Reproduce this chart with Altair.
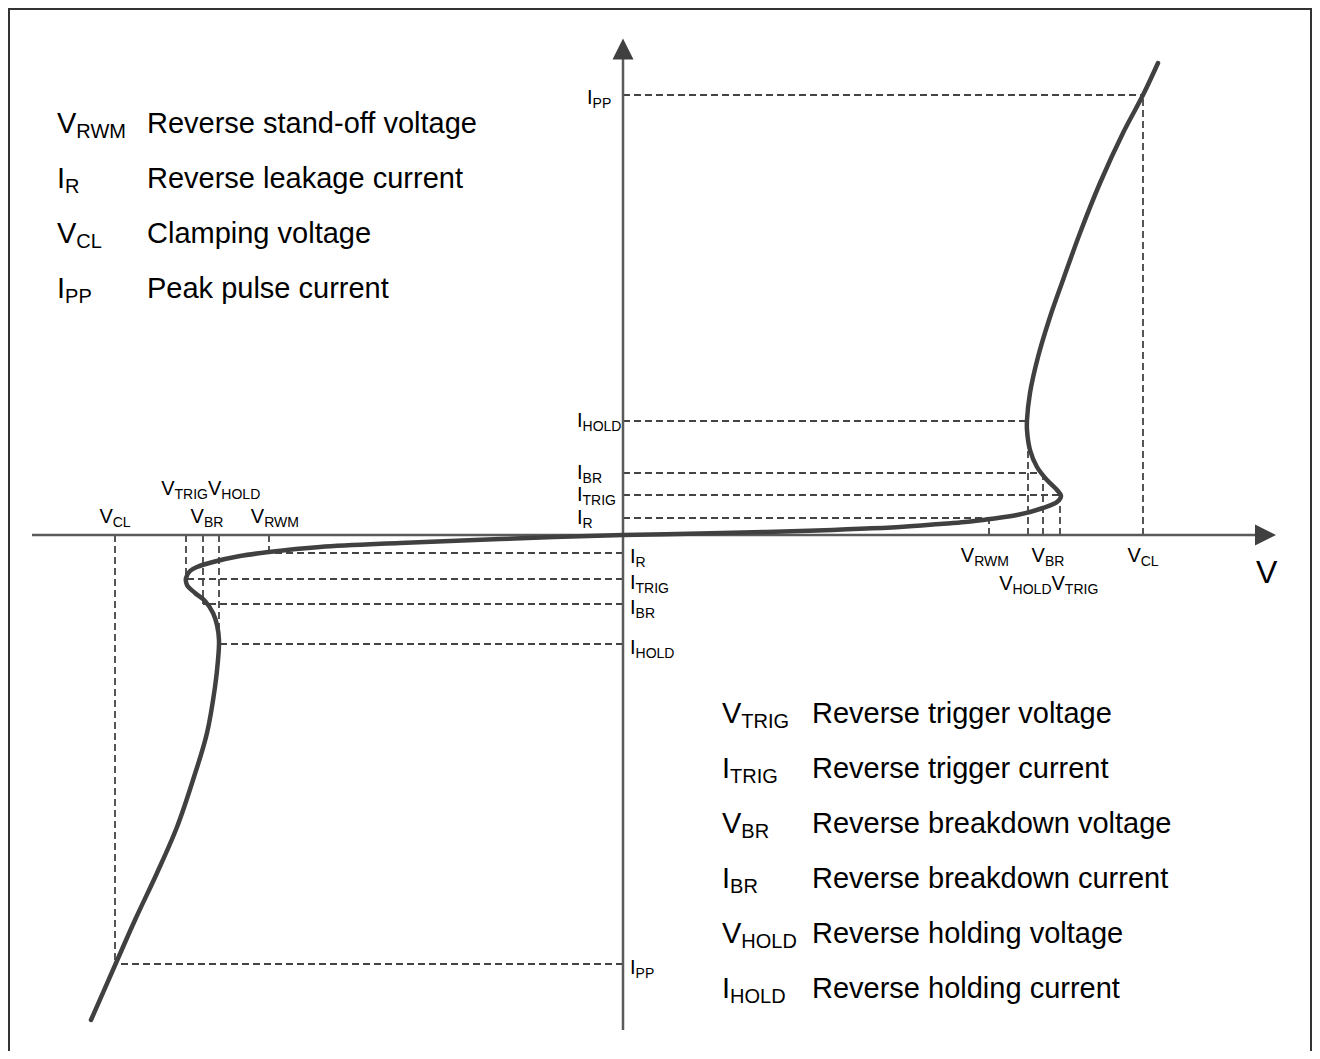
import altair as alt
import pandas as pd

# ---------------- data (diagram units, origin at the axes crossing) ----------------
curve_v = [-532, -507, -488, -466, -446, -430, -416, -408, -405, -404, -406, -410, -418, -428, -436,
           -437, -433, -426, -410, -383, -354, -303, -223, -123, 0,
           77, 177, 277, 317, 342, 367, 394, 420, 434, 438, 434, 424, 414, 407, 404, 404,
           407, 415, 427, 440, 457, 477, 500, 520, 535]
curve_i = [-485, -428, -385, -338, -292, -245, -198, -152, -125, -105, -90, -78, -66, -58, -50,
           -43, -36, -32, -27, -21, -17, -12, -8, -4, 0,
           1.5, 4, 8, 11, 13, 16, 20, 27, 33, 39, 45, 55, 68, 85, 105, 115,
           142, 178, 218, 255, 302, 352, 402, 440, 472]

v_names = ["RWM", "HOLD", "BR", "TRIG", "CL"]
v_pos = [366, 405, 420, 437, 520]
v_neg = [-354, -404, -420, -437, -508]

i_names = ["R", "TRIG", "BR", "HOLD", "PP"]
i_pos = [17, 40, 62, 114, 440]
i_neg = [-18, -44, -69, -109, -429]

# which V pairs with which I for the dashed construction lines
pairs = [("RWM", "R"), ("TRIG", "TRIG"), ("BR", "BR"), ("HOLD", "HOLD"), ("CL", "PP")]

legend_left_sym = ["V", "I", "V", "I"]
legend_left_sub = ["RWM", "R", "CL", "PP"]
legend_left_txt = ["Reverse stand-off voltage", "Reverse leakage current",
                   "Clamping voltage", "Peak pulse current"]

legend_right_sym = ["V", "I", "V", "I", "V", "I"]
legend_right_sub = ["TRIG", "TRIG", "BR", "BR", "HOLD", "HOLD"]
legend_right_txt = ["Reverse trigger voltage", "Reverse trigger current",
                    "Reverse breakdown voltage", "Reverse breakdown current",
                    "Reverse holding voltage", "Reverse holding current"]

# ---------------- layout ----------------
W, H = 1304, 1043
XD = [-615, 689]
YD = [-516, 527]
FONT = "Liberation Sans"

VP = dict(zip(v_names, v_pos))
VN = dict(zip(v_names, v_neg))
IP = dict(zip(i_names, i_pos))
IN = dict(zip(i_names, i_neg))

ARIAL = {'V': .667, 'I': .278, 'R': .722, 'W': .944, 'M': .833, 'C': .722, 'L': .556,
         'P': .667, 'T': .611, 'G': .778, 'H': .722, 'O': .778, 'D': .722, 'B': .667}


def tw(s, fs):
    return sum(ARIAL.get(c, .6) for c in s) * fs


texts = []


def lab(main, sub, x_left, y_base, fm=20, fsb=14, drop=4):
    texts.append(dict(x=x_left, y=y_base, t=main, fs=fm))
    texts.append(dict(x=x_left + tw(main, fm), y=y_base - drop, t=sub, fs=fsb))


def lab_c(main, sub, xc, y_base, fm=20, fsb=14, drop=4):
    w = tw(main, fm) + tw(sub, fsb)
    lab(main, sub, xc - w / 2, y_base, fm, fsb, drop)


def lab_r(main, sub, xr, y_base, fm=20, fsb=14, drop=4):
    w = tw(main, fm) + tw(sub, fsb)
    lab(main, sub, xr - w, y_base, fm, fsb, drop)


# right-hand V labels (below the axis)
lab_c("V", "RWM", VP["RWM"] - 4, -27)
lab_c("V", "BR", VP["BR"] + 5, -27)
lab_c("V", "CL", VP["CL"], -27)
mid_r = (VP["BR"] + VP["TRIG"]) / 2
lab_r("V", "HOLD", mid_r, -55)
lab("V", "TRIG", mid_r, -55)
# left-hand V labels (above the axis)
lab_c("V", "CL", VN["CL"], 12)
lab_c("V", "BR", VN["BR"] + 4, 12)
lab_c("V", "RWM", VN["RWM"] + 6, 12)
mid_l = VN["BR"] + 5
lab_r("V", "TRIG", mid_l, 40)
lab("V", "HOLD", mid_l, 40)
# I labels left of the vertical axis (upper half)
for n in ["R", "TRIG", "BR", "HOLD"]:
    lab("I", n, -46, IP[n] - 6)
lab("I", "PP", -36, IP["PP"] - 9)
# I labels right of the vertical axis (lower half)
for n in i_names:
    lab("I", n, 7, IN[n] - 10)

# legends
for k, (s, sb, d) in enumerate(zip(legend_left_sym, legend_left_sub, legend_left_txt)):
    yb = 402 - 55 * k
    lab(s, sb, -566, yb, 29, 20, 5)
    texts.append(dict(x=-476, y=yb, t=d, fs=29))
for k, (s, sb, d) in enumerate(zip(legend_right_sym, legend_right_sub, legend_right_txt)):
    yb = -188 - 55 * k
    lab(s, sb, 99, yb, 29, 20, 5)
    texts.append(dict(x=189, y=yb, t=d, fs=29))

# axis name
texts.append(dict(x=633, y=-48, t="V", fs=32))

text_df = pd.DataFrame(texts)

# dashed construction lines
segs = []
for vn, inn in pairs:
    for V, I in ((VP, IP), (VN, IN)):
        segs.append(dict(x=V[vn], y=0, x2=V[vn], y2=I[inn]))
        segs.append(dict(x=0, y=I[inn], x2=V[vn], y2=I[inn]))
seg_df = pd.DataFrame(segs)

curve_df = pd.DataFrame({"v": curve_v, "i": curve_i, "k": range(len(curve_v))})

xs = alt.Scale(domain=XD, nice=False, zero=False)
ys = alt.Scale(domain=YD, nice=False, zero=False)
X = lambda f: alt.X(f, type="quantitative", scale=xs, axis=None)
Y = lambda f: alt.Y(f, type="quantitative", scale=ys, axis=None)

# frame (top, left, right)
frame_df = pd.DataFrame([
    dict(x=XD[0], y=YD[1] - 1, x2=XD[1], y2=YD[1] - 1),
    dict(x=XD[0] + 1, y=YD[0], x2=XD[0] + 1, y2=YD[1]),
    dict(x=XD[1] - 1, y=YD[0], x2=XD[1] - 1, y2=YD[1]),
])
frame = alt.Chart(frame_df).mark_rule(color="#333333", strokeWidth=2).encode(
    x=X("x"), y=Y("y"), x2="x2", y2="y2")

axes_df = pd.DataFrame([
    dict(x=-591, y=0, x2=635, y2=0),
    dict(x=0, y=-495, x2=0, y2=476),
])
axes = alt.Chart(axes_df).mark_rule(color="#5a5a5a", strokeWidth=2.5).encode(
    x=X("x"), y=Y("y"), x2="x2", y2="y2")

dashed = alt.Chart(seg_df).mark_rule(color="#444444", strokeWidth=1.8, strokeDash=[7, 4]).encode(
    x=X("x"), y=Y("y"), x2="x2", y2="y2")

curve = alt.Chart(curve_df).mark_line(color="#404040", strokeWidth=4.5,
                                      interpolate="catmull-rom", strokeCap="round").encode(
    x=X("v"), y=Y("i"), order="k:Q")

arrow_up = alt.Chart(pd.DataFrame({"x": [0], "y": [486]})).mark_point(
    shape="M-1,1L0,-1L1,1Z", filled=True, size=441, color="#404040", opacity=1, strokeWidth=0
).encode(x=X("x"), y=Y("y"))
arrow_right = alt.Chart(pd.DataFrame({"x": [642.5], "y": [0]})).mark_point(
    shape="M-1,-1L1,0L-1,1Z", filled=True, size=441, color="#404040", opacity=1, strokeWidth=0
).encode(x=X("x"), y=Y("y"))

labels = alt.Chart(text_df).mark_text(font=FONT, align="left", baseline="alphabetic",
                                      color="#000000").encode(
    x=X("x"), y=Y("y"), text="t:N", size=alt.Size("fs:Q", scale=None))

chart = alt.layer(frame, dashed, axes, curve, arrow_up, arrow_right, labels).properties(
    width=W, height=H, padding=0, autosize=alt.AutoSizeParams(type="none"),
    background="white"
).configure_view(strokeWidth=0)

chart.save("out.html", embed_options={"renderer": "svg", "actions": False})
